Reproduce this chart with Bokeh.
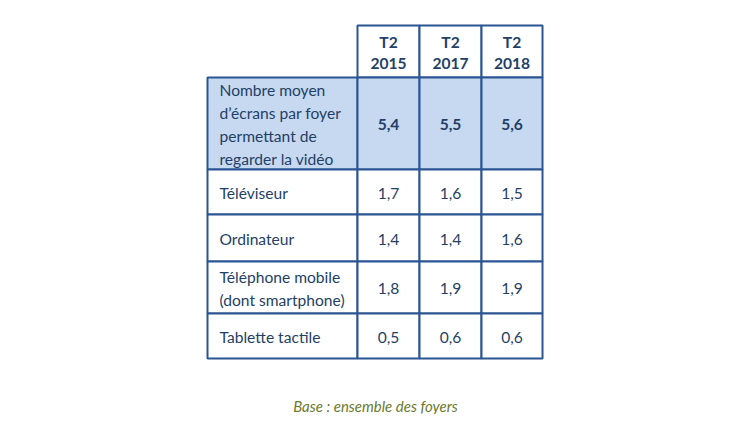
from bokeh.plotting import figure
from bokeh.models import ColumnDataSource, Range1d
from bokeh.core.properties import value
from bokeh.embed import file_html
from bokeh.resources import INLINE

# ---- data ----
periods = ["T2\n2015", "T2\n2017", "T2\n2018"]
row_labels = [
    "Nombre moyen\nd\u2019\u00e9crans par foyer\npermettant de\nregarder la vid\u00e9o",
    "T\u00e9l\u00e9viseur",
    "Ordinateur",
    "T\u00e9l\u00e9phone mobile\n(dont smartphone)",
    "Tablette tactile",
]
v2015 = [5.4, 1.7, 1.4, 1.8, 0.5]
v2017 = [5.5, 1.6, 1.4, 1.9, 0.6]
v2018 = [5.6, 1.5, 1.6, 1.9, 0.6]
footnote = "Base : ensemble des foyers"

# ---- layout (page pixel coordinates) ----
col_edges = [207, 357, 419, 481, 542]
row_edges = [25, 77, 169, 214, 261, 313, 358]
BORDER = "#2b5592"
HILITE = "#c6d9f1"
TXT = "#243f66"
FONT = "Lato"
FS = "15.6px"

W, H = 742, 414
p = figure(width=W, height=H, output_backend="svg", toolbar_location=None,
           x_range=Range1d(0, W), y_range=Range1d(H, 0),
           min_border=0, outline_line_color=None)
p.axis.visible = False
p.grid.visible = False

series = [v2015, v2017, v2018]

# cells
L, R, T, B, F = [], [], [], [], []
for j in range(len(periods)):
    L.append(col_edges[j + 1]); R.append(col_edges[j + 2])
    T.append(row_edges[0]); B.append(row_edges[1]); F.append("white")
for i in range(len(row_labels)):
    for j in range(len(periods) + 1):
        L.append(col_edges[j]); R.append(col_edges[j + 1])
        T.append(row_edges[i + 1]); B.append(row_edges[i + 2])
        F.append(HILITE if i == 0 else "white")
p.quad(left=L, right=R, top=T, bottom=B, fill_color=F,
       line_color=BORDER, line_width=2)

# header text
hx = [(col_edges[j + 1] + col_edges[j + 2]) / 2 for j in range(len(periods))]
hy = [(row_edges[0] + row_edges[1]) / 2 + 1] * len(periods)
p.text(x=hx, y=hy, text=periods, text_align="center", text_baseline="middle",
       text_font=value(FONT), text_font_size=FS, text_font_style="bold",
       text_color=TXT, text_line_height=1.2)

# row labels
lx = [col_edges[0] + 12] * len(row_labels)
ly = [(row_edges[i + 1] + row_edges[i + 2]) / 2 + 1 for i in range(len(row_labels))]
p.text(x=lx, y=ly, text=row_labels, text_align="left", text_baseline="middle",
       text_font=value(FONT), text_font_size=FS, text_color=TXT,
       text_line_height=1.26)

# values
vx, vy, vt, vs = [], [], [], []
for j, ser in enumerate(series):
    for i, v in enumerate(ser):
        vx.append((col_edges[j + 1] + col_edges[j + 2]) / 2)
        vy.append((row_edges[i + 1] + row_edges[i + 2]) / 2 + 1)
        vt.append(f"{v:.1f}".replace(".", ","))
        vs.append("bold" if i == 0 else "normal")
src = ColumnDataSource(dict(x=vx, y=vy, t=vt, s=vs))
p.text(x="x", y="y", text="t", source=src, text_align="center",
       text_baseline="middle", text_font=value(FONT), text_font_size=FS,
       text_font_style="s", text_color=TXT)

# footnote
p.text(x=[375], y=[405], text=[footnote], text_align="center",
       text_baseline="middle", text_font=value(FONT), text_font_size="15px",
       text_font_style="italic", text_color="#6b7a2e")

open("out.html", "w").write(file_html(p, INLINE))
